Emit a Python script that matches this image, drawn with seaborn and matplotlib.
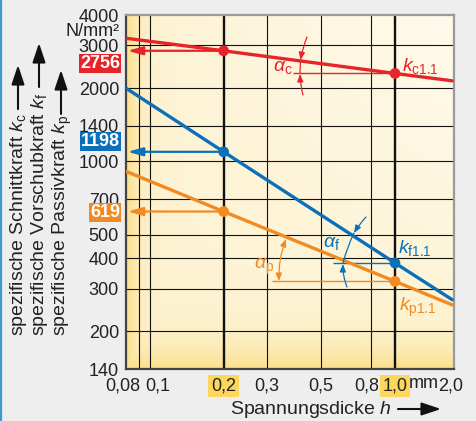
import numpy as np
import pandas as pd
import matplotlib
matplotlib.use("Agg")
import matplotlib.pyplot as plt
import matplotlib.transforms as mtransforms
import seaborn as sns

# Werte (log-log Geraden)
h_line = [0.08, 0.2, 1.0, 1.71]
kc_line = [3210, 2850, 2300, 2145]
kf_line = [2000, 1095, 382, 270]
kp_line = [910, 622, 321, 257]
h_marker = [0.2, 1.0]

box_values = ["2756", "1198", "619"]
y_ticks = [140, 200, 300, 400, 500, 700, 1000, 1400, 2000, 3000, 4000]
x_ticks = [0.08, 0.1, 0.2, 0.3, 0.5, 0.8, 1.0, 1.74]
x_labels = ["0,08", "0,1", "0,2", "0,3", "0,5", "0,8", "1,0", "2,0"]
x_grid_extra = [0.09]

RED = "#E8242B"
BLUE = "#0B70B9"
ORANGE = "#F28A22"
YELLOW_BOX = "#FDD65C"
W, H = 476, 421

sns.set_style("white")
plt.rcParams["font.family"] = ["Liberation Sans", "DejaVu Sans"]
plt.rcParams["mathtext.fontset"] = "custom"
plt.rcParams["mathtext.rm"] = "Liberation Sans"
plt.rcParams["mathtext.it"] = "Liberation Sans:italic"
plt.rcParams["mathtext.bf"] = "Liberation Sans:bold"
FS = 13     # Zahlen
FL = 14     # Beschriftungen

fig = plt.figure(figsize=(W / 100, H / 100), dpi=100, facecolor="#EEEEEE")
ax = fig.add_axes([126 / W, 1 - 369 / H, (454 - 126) / W, (369 - 15) / H])


def P(px, py):
    # Pixel von oben links -> figure pixels
    return (px, H - py)


def F(px, py):
    # Pixel von oben links -> figure fraction
    return (px / W, 1 - py / H)


# Hintergrundverlauf (gelb an den Kanten, fast weiss oben rechts)
gx, gy = np.meshgrid(np.linspace(0, 1, 200), np.linspace(0, 1, 200))
edge = np.maximum(np.exp(-gx / 0.035), np.exp(-gy / 0.06))
light = np.clip(gx * gy, 0, 1) * 0.7
base = np.array([253, 243, 211]) / 255
edge_c = np.array([252, 222, 135]) / 255
white = np.array([255, 253, 246]) / 255
img = base * (1 - light[..., None]) + white * light[..., None]
img = img * (1 - edge[..., None]) + edge_c * edge[..., None]
ax.imshow(img, extent=[0, 1, 0, 1], transform=ax.transAxes, origin="lower",
          aspect="auto", zorder=0)

ax.set_xscale("log")
ax.set_yscale("log")
ax.set_xlim(0.08, 1.74)
ax.set_ylim(140, 4000)

# Gitter
for yv in y_ticks[1:-1]:
    ax.axhline(yv, color="#111111", lw=0.8, zorder=1)
for xv in x_ticks[1:-1] + x_grid_extra:
    lw = 1.7 if xv in (0.2, 1.0) else 0.8
    ax.axvline(xv, color="#111111", lw=lw, zorder=1)

df = pd.DataFrame({
    "h": h_line * 3,
    "k": kc_line + kf_line + kp_line,
    "kraft": ["kc"] * 4 + ["kf"] * 4 + ["kp"] * 4,
})
pal = {"kc": RED, "kf": BLUE, "kp": ORANGE}
sns.lineplot(data=df, x="h", y="k", hue="kraft", palette=pal, lw=2.4,
             legend=False, ax=ax, zorder=3)

mk = df[df["h"].isin(h_marker)]
sns.scatterplot(data=mk, x="h", y="k", hue="kraft", palette=pal, s=60,
                edgecolor="none", legend=False, ax=ax, zorder=4)

# Pfeile von h=0,2 zur Achse
for vals, c in [(kc_line, RED), (kf_line, BLUE), (kp_line, ORANGE)]:
    ax.annotate("", xy=(0.0812, vals[1]), xytext=(0.2, vals[1]),
                arrowprops=dict(arrowstyle="-|>,head_length=0.9,head_width=0.25",
                                color=c, lw=1.6, shrinkA=4, shrinkB=0),
                zorder=3)

# Bezugslinien fuer die Steigungswinkel
ax.hlines(kc_line[2], 0.385, 1.0, color=RED, lw=1.0, zorder=2)
ax.hlines(kf_line[2], 0.56, 1.0, color=BLUE, lw=1.0, zorder=2)
ax.hlines(kp_line[2], 0.316, 1.0, color=ORANGE, lw=1.0, zorder=2)

head = "-|>,head_length=0.45,head_width=0.18"


def arrow(a, b, c, style=head, rad=0.0, lw=0.9, ms=None):
    props = dict(arrowstyle=style, color=c, lw=lw, shrinkA=0, shrinkB=0,
                 connectionstyle=f"arc3,rad={rad}")
    if ms:
        props["mutation_scale"] = ms
    ax.annotate("", xy=P(*b), xytext=P(*a), xycoords="figure pixels",
                textcoords="figure pixels", arrowprops=props,
                annotation_clip=False)


# alpha_c
arrow((307, 37), (300.5, 60), RED, rad=0.05)
arrow((300.5, 60), (300, 73), RED, style="-")
arrow((303, 95), (300, 74), RED, rad=-0.05)
fig.text(*F(283, 68), r"$\alpha_{\mathrm{c}}$", color=RED, fontsize=FL,
         ha="center", va="center")
# alpha_f
arrow((366, 217), (354, 233), BLUE, rad=0.05)
arrow((354, 233), (343, 263), BLUE, style="-", rad=0.05)
arrow((347, 287), (343, 264), BLUE, rad=-0.1)
fig.text(*F(332, 243), r"$\alpha_{\mathrm{f}}$", color=BLUE, fontsize=FL,
         ha="center", va="center")
# alpha_p
arrow((279, 281), (286, 239), ORANGE,
      style="<|-|>,head_length=0.45,head_width=0.18", rad=-0.1)
fig.text(*F(264, 267), r"$\alpha_{\mathrm{p}}$", color=ORANGE, fontsize=FL,
         ha="center", va="center")

# k-Beschriftungen
fig.text(*F(402, 66), r"$k_{\mathrm{c1.1}}$", color=RED, fontsize=FL,
         ha="left", va="center")
fig.text(*F(398, 248), r"$k_{\mathrm{f1.1}}$", color=BLUE, fontsize=FL,
         ha="left", va="center")
fig.text(*F(399, 307), r"$k_{\mathrm{p1.1}}$", color=ORANGE, fontsize=FL,
         ha="left", va="center")

# Achsen
ax.set_yticks(y_ticks)
ax.set_yticklabels([str(v) for v in y_ticks])
ax.yaxis.set_minor_locator(matplotlib.ticker.NullLocator())
ax.set_xticks(x_ticks)
ax.set_xticklabels(x_labels)
ax.xaxis.set_minor_locator(matplotlib.ticker.NullLocator())
ax.tick_params(axis="both", length=0, labelsize=FS, colors="#222222")
ax.tick_params(axis="y", pad=5)
ax.tick_params(axis="x", pad=6)
x_shift = {"0,08": -3, "0,1": 8, "0,8": -4, "2,0": -3}
for lab in ax.get_xticklabels():
    t = lab.get_text()
    if t in ("0,2", "1,0"):
        lab.set_bbox(dict(boxstyle="square,pad=0.15", fc=YELLOW_BOX, ec="none"))
    if t in x_shift:
        lab.set_transform(lab.get_transform() + mtransforms.Affine2D().translate(x_shift[t], 0))
ax.set_xlabel("")
ax.set_ylabel("")

for s in ["left", "bottom"]:
    ax.spines[s].set_color("#444444")
    ax.spines[s].set_linewidth(1.6)
for s in ["top", "right"]:
    ax.spines[s].set_color("#9A9A9A")
    ax.spines[s].set_linewidth(1.6)

fig.text(*F(120, 31), "N/mm²", fontsize=FS, color="#222222", ha="right",
         va="center")
fig.text(*F(424, 384), "mm", fontsize=FS, color="#222222", ha="center",
         va="center")

# Wertekaesten
for txt, c, py in zip(box_values, [RED, BLUE, ORANGE], [63.5, 141.5, 212.5]):
    fig.text(*F(120, py), txt, fontsize=FS, color="white", fontweight="bold",
             ha="right", va="center",
             bbox=dict(boxstyle="square,pad=0.08", fc=c, ec="none"))

# Achsentitel mit Pfeilen
fig.text(*F(230, 409), r"Spannungsdicke $h$", fontsize=FL,
         color="#222222", ha="left", va="center")
arrow((398, 409), (441, 409), "#111111",
      style="-|>,head_length=0.9,head_width=0.3", lw=1.5, ms=13)

for px, txt, top in [(19, r"spezifische Schnittkraft $k_{\mathrm{c}}$", 65),
                     (40, r"spezifische Vorschubkraft $k_{\mathrm{f}}$", 43),
                     (62, r"spezifische Passivkraft $k_{\mathrm{p}}$", 70)]:
    fig.text(*F(px, 336), txt, fontsize=FL, color="#222222",
             rotation=90, ha="center", va="bottom")
    arrow((px - 1, top + 44), (px - 1, top), "#111111",
          style="-|>,head_length=0.9,head_width=0.3", lw=1.5, ms=13)

# blaue Randlinie links
fig.add_artist(matplotlib.lines.Line2D([1 / W, 1 / W], [0, 1], color="#3C9AD6",
                                       lw=1.6, transform=fig.transFigure))

fig.savefig("out.png", dpi=100, facecolor=fig.get_facecolor())
